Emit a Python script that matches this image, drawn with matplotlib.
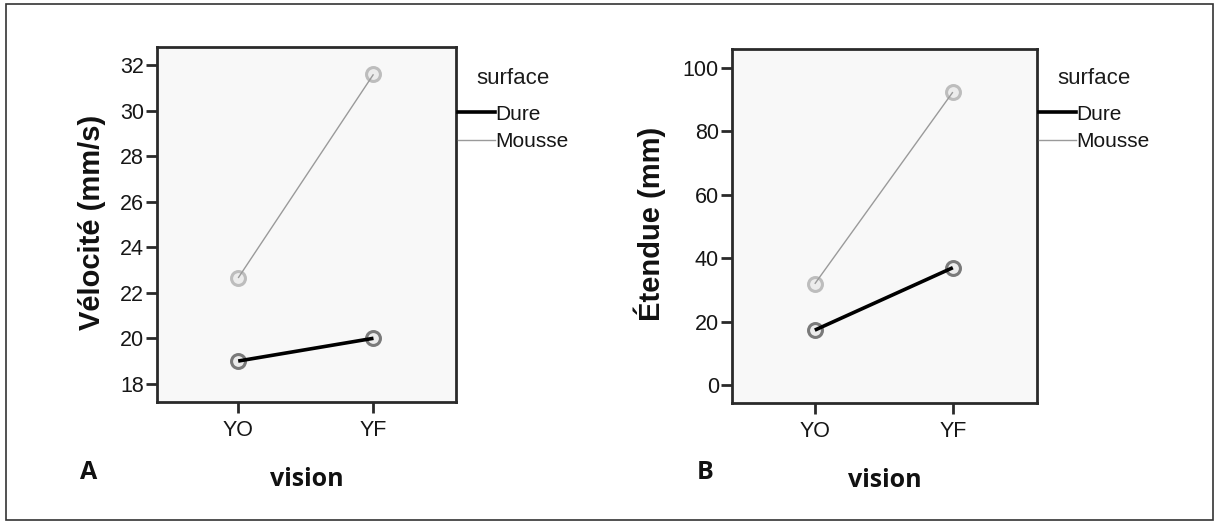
import matplotlib
matplotlib.use("Agg")
import matplotlib.pyplot as plt
from matplotlib.lines import Line2D
from matplotlib.patches import Rectangle

# ---- data ----
vision = ["YO", "YF"]
surfaces = ["Dure", "Mousse"]
velocite_dure = [19.0, 20.0]
velocite_mousse = [22.65, 31.6]
etendue_dure = [17.3, 37.0]
etendue_mousse = [31.9, 92.4]
velocite_ticks = [18, 20, 22, 24, 26, 28, 30, 32]
etendue_ticks = [0, 20, 40, 60, 80, 100]

W, H = 1219, 526
fig = plt.figure(figsize=(W / 100, H / 100), dpi=100)
fig.patch.set_facecolor("white")

tick_font = ["Liberation Sans", "DejaVu Sans"]
bold_font = ["Liberation Sans", "DejaVu Sans"]
panel_font = ["Open Sans", "DejaVu Sans"]

line_styles = {
    "Dure": dict(color="black", lw=2.6, mec="#7a7a7a"),
    "Mousse": dict(color="#9a9a9a", lw=1.0, mec="#bdbdbd"),
}


def px_rect(x0, y0, x1, y1):
    return [x0 / W, 1 - y1 / H, (x1 - x0) / W, (y1 - y0) / H]


def make_panel(rect, dure, mousse, ticks, ylim, ylabel, letter, letter_x,
               ylabel_x, leg_y):
    ax = fig.add_axes(rect)
    ax.set_facecolor("#f8f8f8")
    x = list(range(len(vision)))
    for name, vals in zip(surfaces, [dure, mousse]):
        st = line_styles[name]
        ax.plot(x, vals, linestyle="none", marker="o", ms=10, mfc="#ececec",
                mec=st["mec"], mew=2.2, zorder=2)
        ax.plot(x, vals, color=st["color"], lw=st["lw"], zorder=3,
                solid_capstyle="butt")
    ax.set_xlim(-0.6, 1.61)
    ax.set_ylim(*ylim)
    ax.set_xticks(x)
    ax.set_xticklabels(vision)
    ax.set_yticks(ticks)
    for sp in ax.spines.values():
        sp.set_linewidth(2.0)
        sp.set_color("#2a2a2a")
    ax.tick_params(axis="both", length=8, width=2.0, color="#2a2a2a",
                   labelsize=15.5, labelcolor="#161616")
    ax.tick_params(axis="y", pad=1.5)
    ax.tick_params(axis="x", pad=5)
    for lab in ax.get_xticklabels() + ax.get_yticklabels():
        lab.set_family(tick_font)
    ax.set_xlabel("vision", fontsize=18, fontweight="bold", family=panel_font,
                  color="#111111", labelpad=19)
    ax.set_ylabel(ylabel, fontsize=21, fontweight="bold", family=bold_font,
                  color="#111111")
    ax.yaxis.set_label_coords(ylabel_x, 0.505)
    handles = [Line2D([], [], color=line_styles[n]["color"], lw=line_styles[n]["lw"])
               for n in surfaces]
    leg = ax.legend(handles, surfaces, title="surface", loc="upper left",
                    bbox_to_anchor=(1.008, leg_y), frameon=False,
                    prop={"family": tick_font, "size": 15},
                    handlelength=1.75, handletextpad=0.0, labelspacing=0.4,
                    borderaxespad=0.0, borderpad=0.0)
    leg.get_title().set_fontsize(16)
    leg.get_title().set_family(tick_font)
    leg.get_title().set_color("#1c1c1c")
    leg._legend_box.sep = 11
    for t in leg.get_texts():
        t.set_color("#161616")
    fig.text(letter_x / W, 1 - 479 / H, letter, fontsize=18, fontweight="bold",
             family=panel_font, color="#111111", ha="left", va="baseline")
    return ax


axA = make_panel(px_rect(157, 47, 456, 402), velocite_dure, velocite_mousse,
                 velocite_ticks, (17.2, 32.8), "Vélocité (mm/s)", "A", 80,
                 (106 - 157) / 299, 0.94)
axB = make_panel(px_rect(732, 49, 1037, 403), etendue_dure, etendue_mousse,
                 etendue_ticks, (-5.7, 106), "Étendue (mm)", "B", 697,
                 (666 - 732) / 305, 0.945)

# outer frame
fig.add_artist(Rectangle((6 / W, 1 - 520 / H), (1213 - 6) / W, (520 - 4) / H,
                         transform=fig.transFigure, fill=False,
                         edgecolor="#333333", lw=1.2))

fig.savefig("out.png", dpi=100, facecolor="white")
